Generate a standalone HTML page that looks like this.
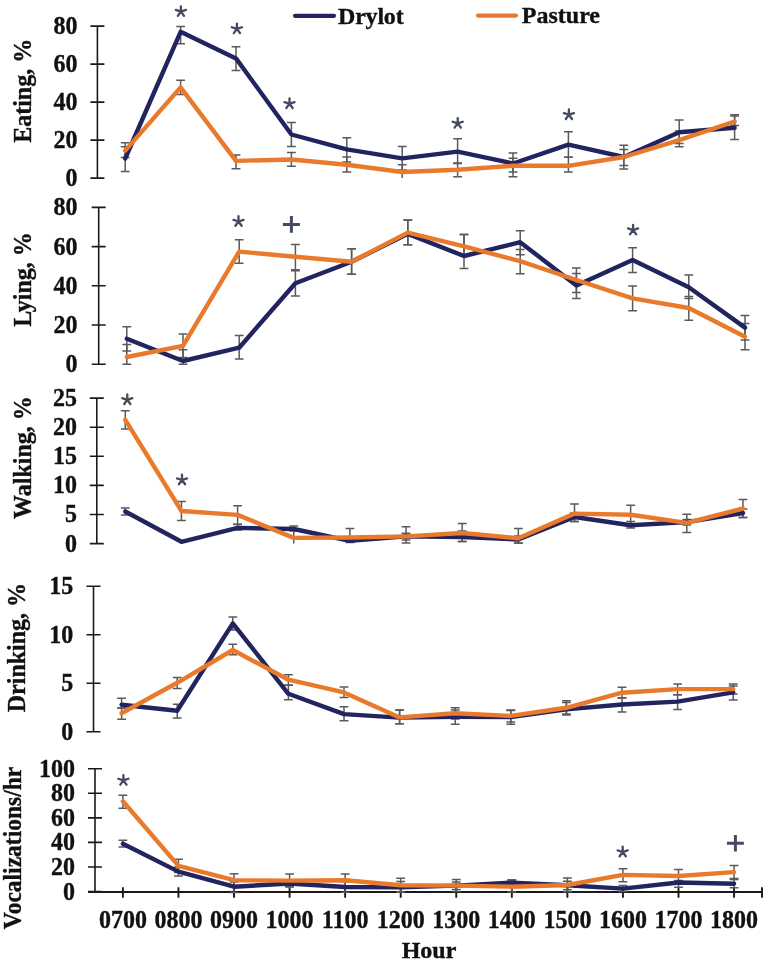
<!DOCTYPE html>
<html><head><meta charset="utf-8"><style>
html,body{margin:0;padding:0;background:#fff;}
body{width:768px;height:963px;overflow:hidden;}
svg{display:block;will-change:transform;}
text{font-family:"Liberation Serif",serif;font-weight:bold;font-size:24px;fill:#111111;stroke:#111;stroke-width:0.35px;}
</style></head><body>
<svg width="768" height="963" viewBox="0 0 768 963">
<rect width="768" height="963" fill="#fff"/>
<path d="M97.4 26.1V178.1" stroke="#1a1a1a" stroke-width="1.6" fill="none"/>
<path d="M90.4 26.1h14M90.4 64.1h14M90.4 102.1h14M90.4 140.1h14M90.4 178.1h14" stroke="#1a1a1a" stroke-width="1.6" fill="none"/>
<text transform="translate(77.5 34) scale(1 1.08)" text-anchor="end">80</text>
<text transform="translate(77.5 72) scale(1 1.08)" text-anchor="end">60</text>
<text transform="translate(77.5 110) scale(1 1.08)" text-anchor="end">40</text>
<text transform="translate(77.5 148) scale(1 1.08)" text-anchor="end">20</text>
<text transform="translate(77.5 186) scale(1 1.08)" text-anchor="end">0</text>
<text transform="translate(30.5 90.8) rotate(-90) scale(1 1.04)" text-anchor="middle">Eating, %</text>
<g stroke="#5a5a5a" stroke-width="1.5" fill="none">
<path d="M125.2 146.7V171.4M120.8 146.7h8.8M120.8 171.4h8.8"/>
<path d="M125.2 142.8V157.4M120.8 142.8h8.8M120.8 157.4h8.8"/>
<path d="M180.6 26.4V43.7M176.2 26.4h8.8M176.2 43.7h8.8"/>
<path d="M180.6 80.2V94.4M176.2 80.2h8.8M176.2 94.4h8.8"/>
<path d="M236 46.7V70.5M231.6 46.7h8.8M231.6 70.5h8.8"/>
<path d="M236 155V168.8M231.6 155h8.8M231.6 168.8h8.8"/>
<path d="M291.4 122.5V146.5M287 122.5h8.8M287 146.5h8.8"/>
<path d="M291.4 152.5V166.3M287 152.5h8.8M287 166.3h8.8"/>
<path d="M346.8 137.7V161.9M342.4 137.7h8.8M342.4 161.9h8.8"/>
<path d="M346.8 157V172M342.4 157h8.8M342.4 172h8.8"/>
<path d="M402.2 146.5V170M397.8 146.5h8.8M397.8 170h8.8"/>
<path d="M402.2 164.7V178M397.8 164.7h8.8"/>
<path d="M457.6 138.7V163M453.2 138.7h8.8M453.2 163h8.8"/>
<path d="M457.6 163.4V176.7M453.2 163.4h8.8M453.2 176.7h8.8"/>
<path d="M513 153V172M508.6 153h8.8M508.6 172h8.8"/>
<path d="M513 158.2V176.7M508.6 158.2h8.8M508.6 176.7h8.8"/>
<path d="M568.4 131.7V157.2M564 131.7h8.8M564 157.2h8.8"/>
<path d="M568.4 157.2V172M564 157.2h8.8M564 172h8.8"/>
<path d="M623.8 145.2V168.9M619.4 145.2h8.8M619.4 168.9h8.8"/>
<path d="M623.8 149.4V165.5M619.4 149.4h8.8M619.4 165.5h8.8"/>
<path d="M679.2 120V143.4M674.8 120h8.8M674.8 143.4h8.8"/>
<path d="M679.2 131V146.8M674.8 131h8.8M674.8 146.8h8.8"/>
<path d="M734.6 114.7V139.5M730.2 114.7h8.8M730.2 139.5h8.8"/>
<path d="M734.6 116V125.4M730.2 116h8.8M730.2 125.4h8.8"/>
</g>
<polyline points="125.2,158.5 180.6,31.8 236,58.4 291.4,134.5 346.8,149.4 402.2,158.4 457.6,151.6 513,163.5 568.4,144.6 623.8,157 679.2,132.2 734.6,127.8" fill="none" stroke="#21245f" stroke-width="4.4" stroke-linejoin="round" stroke-linecap="round"/>
<polyline points="125.2,150.6 180.6,87.4 236,160.9 291.4,159.5 346.8,164.7 402.2,172 457.6,169.8 513,165.8 568.4,165.8 623.8,157 679.2,140.2 734.6,121.5" fill="none" stroke="#e97a2c" stroke-width="4.4" stroke-linejoin="round" stroke-linecap="round"/>
<path d="M180.9 11.6L180.9 6.3M180.9 11.6L185.94 9.96M180.9 11.6L184.02 15.89M180.9 11.6L177.78 15.89M180.9 11.6L175.86 9.96" stroke="#444b60" stroke-width="2.3" stroke-linecap="round" fill="none"/>
<path d="M236.9 28.9L236.9 23.6M236.9 28.9L241.94 27.26M236.9 28.9L240.02 33.19M236.9 28.9L233.78 33.19M236.9 28.9L231.86 27.26" stroke="#444b60" stroke-width="2.3" stroke-linecap="round" fill="none"/>
<path d="M289.5 103.7L289.5 98.4M289.5 103.7L294.54 102.06M289.5 103.7L292.62 107.99M289.5 103.7L286.38 107.99M289.5 103.7L284.46 102.06" stroke="#444b60" stroke-width="2.3" stroke-linecap="round" fill="none"/>
<path d="M457.7 123.4L457.7 118.1M457.7 123.4L462.74 121.76M457.7 123.4L460.82 127.69M457.7 123.4L454.58 127.69M457.7 123.4L452.66 121.76" stroke="#444b60" stroke-width="2.3" stroke-linecap="round" fill="none"/>
<path d="M568.9 114.7L568.9 109.4M568.9 114.7L573.94 113.06M568.9 114.7L572.02 118.99M568.9 114.7L565.78 118.99M568.9 114.7L563.86 113.06" stroke="#444b60" stroke-width="2.3" stroke-linecap="round" fill="none"/>
<path d="M98.7 207.4V364.3" stroke="#1a1a1a" stroke-width="1.6" fill="none"/>
<path d="M91.7 207.4h14M91.7 246.6h14M91.7 285.8h14M91.7 325h14M91.7 364.3h14" stroke="#1a1a1a" stroke-width="1.6" fill="none"/>
<text transform="translate(77.5 215.3) scale(1 1.08)" text-anchor="end">80</text>
<text transform="translate(77.5 254.5) scale(1 1.08)" text-anchor="end">60</text>
<text transform="translate(77.5 293.7) scale(1 1.08)" text-anchor="end">40</text>
<text transform="translate(77.5 332.9) scale(1 1.08)" text-anchor="end">20</text>
<text transform="translate(77.5 372.2) scale(1 1.08)" text-anchor="end">0</text>
<text transform="translate(30.6 279.5) rotate(-90) scale(1 1.04)" text-anchor="middle">Lying, %</text>
<g stroke="#5a5a5a" stroke-width="1.5" fill="none">
<path d="M126.8 326.8V351M122.4 326.8h8.8M122.4 351h8.8"/>
<path d="M126.8 344.5V364.3M122.4 344.5h8.8M122.4 364.3h8.8"/>
<path d="M183 349.7V364.3M178.6 349.7h8.8M178.6 364.3h8.8"/>
<path d="M183 334.1V357.6M178.6 334.1h8.8M178.6 357.6h8.8"/>
<path d="M239.2 335.4V358.9M234.8 335.4h8.8M234.8 358.9h8.8"/>
<path d="M239.2 239.8V263.3M234.8 239.8h8.8M234.8 263.3h8.8"/>
<path d="M295.4 270.7V296M291 270.7h8.8M291 296h8.8"/>
<path d="M295.4 244.6V269.7M291 244.6h8.8M291 269.7h8.8"/>
<path d="M351.6 248.7V274.2M347.2 248.7h8.8M347.2 274.2h8.8"/>
<path d="M351.6 248.7V274.2M347.2 248.7h8.8M347.2 274.2h8.8"/>
<path d="M407.8 220V244.8M403.4 220h8.8M403.4 244.8h8.8"/>
<path d="M407.8 220V244.8M403.4 220h8.8M403.4 244.8h8.8"/>
<path d="M464 234.4V268.5M459.6 234.4h8.8M459.6 268.5h8.8"/>
<path d="M464 234.4V256M459.6 234.4h8.8M459.6 256h8.8"/>
<path d="M520.2 230.7V254.7M515.8 230.7h8.8M515.8 254.7h8.8"/>
<path d="M520.2 249.5V273.7M515.8 249.5h8.8M515.8 273.7h8.8"/>
<path d="M576.4 268V298.4M572 268h8.8M572 298.4h8.8"/>
<path d="M576.4 273.4V292.4M572 273.4h8.8M572 292.4h8.8"/>
<path d="M632.6 247.7V272.4M628.2 247.7h8.8M628.2 272.4h8.8"/>
<path d="M632.6 285.9V310.7M628.2 285.9h8.8M628.2 310.7h8.8"/>
<path d="M688.8 275V298.4M684.4 275h8.8M684.4 298.4h8.8"/>
<path d="M688.8 296.4V320.3M684.4 296.4h8.8M684.4 320.3h8.8"/>
<path d="M745 315.4V340M740.6 315.4h8.8M740.6 340h8.8"/>
<path d="M745 323.5V349.7M740.6 323.5h8.8M740.6 349.7h8.8"/>
</g>
<polyline points="126.8,338.8 183,361 239.2,347.7 295.4,283.2 351.6,261.7 407.8,233.9 464,256 520.2,242.2 576.4,285.5 632.6,259.9 688.8,287.2 745,327.6" fill="none" stroke="#21245f" stroke-width="4.4" stroke-linejoin="round" stroke-linecap="round"/>
<polyline points="126.8,357 183,345.8 239.2,251.6 295.4,256.7 351.6,261.7 407.8,232.6 464,246.4 520.2,261.2 576.4,280 632.6,298.3 688.8,308 745,336.7" fill="none" stroke="#e97a2c" stroke-width="4.4" stroke-linejoin="round" stroke-linecap="round"/>
<path d="M238.5 221.5L238.5 216.2M238.5 221.5L243.54 219.86M238.5 221.5L241.62 225.79M238.5 221.5L235.38 225.79M238.5 221.5L233.46 219.86" stroke="#444b60" stroke-width="2.3" stroke-linecap="round" fill="none"/>
<path d="M633.1 230.1L633.1 224.8M633.1 230.1L638.14 228.46M633.1 230.1L636.22 234.39M633.1 230.1L629.98 234.39M633.1 230.1L628.06 228.46" stroke="#444b60" stroke-width="2.3" stroke-linecap="round" fill="none"/>
<path d="M282.9 224.4h17M291.4 216.1v16.6" stroke="#444b60" stroke-width="3.0" fill="none"/>
<path d="M96.8 398.1V543.6" stroke="#1a1a1a" stroke-width="1.6" fill="none"/>
<path d="M89.8 398.1h14M89.8 427.2h14M89.8 456.3h14M89.8 485.4h14M89.8 514.5h14M89.8 543.6h14" stroke="#1a1a1a" stroke-width="1.6" fill="none"/>
<text transform="translate(77 406) scale(1 1.08)" text-anchor="end">25</text>
<text transform="translate(77 435.1) scale(1 1.08)" text-anchor="end">20</text>
<text transform="translate(77 464.2) scale(1 1.08)" text-anchor="end">15</text>
<text transform="translate(77 493.3) scale(1 1.08)" text-anchor="end">10</text>
<text transform="translate(77 522.4) scale(1 1.08)" text-anchor="end">5</text>
<text transform="translate(77 551.5) scale(1 1.08)" text-anchor="end">0</text>
<text transform="translate(30.5 457.6) rotate(-90) scale(1 1.04)" text-anchor="middle">Walking, %</text>
<g stroke="#5a5a5a" stroke-width="1.5" fill="none">
<path d="M125.3 508.1V515M120.9 508.1h8.8M120.9 515h8.8"/>
<path d="M125.3 410.7V429M120.9 410.7h8.8M120.9 429h8.8"/>
<path d="M181.45 501.6V520.6M177.05 501.6h8.8M177.05 520.6h8.8"/>
<path d="M237.6 524.5V530M233.2 524.5h8.8M233.2 530h8.8"/>
<path d="M237.6 505.8V524.3M233.2 505.8h8.8M233.2 524.3h8.8"/>
<path d="M293.75 525.9V531M289.35 525.9h8.8M289.35 531h8.8"/>
<path d="M293.75 528V543.6"/>
<path d="M349.9 537V542.6M345.5 537h8.8M345.5 542.6h8.8"/>
<path d="M349.9 528.5V541M345.5 528.5h8.8"/>
<path d="M406.05 533.3V540M401.65 533.3h8.8M401.65 540h8.8"/>
<path d="M406.05 526.8V542.9M401.65 526.8h8.8M401.65 542.9h8.8"/>
<path d="M462.2 531V541.6M457.8 531h8.8M457.8 541.6h8.8"/>
<path d="M462.2 523.4V541.6M457.8 523.4h8.8M457.8 541.6h8.8"/>
<path d="M518.35 536V542.9M513.95 536h8.8M513.95 542.9h8.8"/>
<path d="M518.35 528.6V542.9M513.95 528.6h8.8M513.95 542.9h8.8"/>
<path d="M574.5 513V521.6M570.1 513h8.8M570.1 521.6h8.8"/>
<path d="M574.5 503.9V521.6M570.1 503.9h8.8M570.1 521.6h8.8"/>
<path d="M630.65 521.5V528M626.25 521.5h8.8M626.25 528h8.8"/>
<path d="M630.65 505.2V524M626.25 505.2h8.8M626.25 524h8.8"/>
<path d="M686.8 519.5V525M682.4 519.5h8.8M682.4 525h8.8"/>
<path d="M686.8 514.3V532.5M682.4 514.3h8.8M682.4 532.5h8.8"/>
<path d="M742.95 509V517.4M738.55 509h8.8M738.55 517.4h8.8"/>
<path d="M742.95 499.4V517.4M738.55 499.4h8.8M738.55 517.4h8.8"/>
</g>
<polyline points="125.3,511.5 181.45,541.8 237.6,527.9 293.75,529 349.9,540.8 406.05,536.4 462.2,537 518.35,539.5 574.5,517 630.65,525.2 686.8,522.1 742.95,513" fill="none" stroke="#21245f" stroke-width="4.4" stroke-linejoin="round" stroke-linecap="round"/>
<polyline points="125.3,419.8 181.45,511 237.6,514.9 293.75,537.9 349.9,537.5 406.05,536.4 462.2,533 518.35,538.2 574.5,513.6 630.65,514.8 686.8,522.9 742.95,508.5" fill="none" stroke="#e97a2c" stroke-width="4.4" stroke-linejoin="round" stroke-linecap="round"/>
<path d="M127.3 399.8L127.3 394.5M127.3 399.8L132.34 398.16M127.3 399.8L130.42 404.09M127.3 399.8L124.18 404.09M127.3 399.8L122.26 398.16" stroke="#444b60" stroke-width="2.3" stroke-linecap="round" fill="none"/>
<path d="M182 480L182 474.7M182 480L187.04 478.36M182 480L185.12 484.29M182 480L178.88 484.29M182 480L176.96 478.36" stroke="#444b60" stroke-width="2.3" stroke-linecap="round" fill="none"/>
<path d="M93.5 586.3V731.7" stroke="#1a1a1a" stroke-width="1.6" fill="none"/>
<path d="M86.5 586.3h14M86.5 634.8h14M86.5 683.2h14M86.5 731.7h14" stroke="#1a1a1a" stroke-width="1.6" fill="none"/>
<text transform="translate(73.3 594.2) scale(1 1.08)" text-anchor="end">15</text>
<text transform="translate(73.3 642.7) scale(1 1.08)" text-anchor="end">10</text>
<text transform="translate(73.3 691.1) scale(1 1.08)" text-anchor="end">5</text>
<text transform="translate(73.3 739.6) scale(1 1.08)" text-anchor="end">0</text>
<text transform="translate(25.2 647.6) rotate(-90) scale(1 1.04)" text-anchor="middle">Drinking, %</text>
<g stroke="#5a5a5a" stroke-width="1.5" fill="none">
<path d="M121.6 698.2V708M117.2 698.2h8.8M117.2 708h8.8"/>
<path d="M121.6 708V719.3M117.2 708h8.8M117.2 719.3h8.8"/>
<path d="M177.2 704.2V718M172.8 704.2h8.8M172.8 718h8.8"/>
<path d="M177.2 677.6V688.5M172.8 677.6h8.8M172.8 688.5h8.8"/>
<path d="M232.8 616.9V630M228.4 616.9h8.8M228.4 630h8.8"/>
<path d="M232.8 644.3V654.7M228.4 644.3h8.8M228.4 654.7h8.8"/>
<path d="M288.4 685.2V699.7M284 685.2h8.8M284 699.7h8.8"/>
<path d="M288.4 674.7V685.2M284 674.7h8.8M284 685.2h8.8"/>
<path d="M344 706.8V720.8M339.6 706.8h8.8M339.6 720.8h8.8"/>
<path d="M344 687V697.4M339.6 687h8.8M339.6 697.4h8.8"/>
<path d="M399.6 709.9V723.7M395.2 709.9h8.8M395.2 723.7h8.8"/>
<path d="M399.6 709.9V723.7M395.2 709.9h8.8M395.2 723.7h8.8"/>
<path d="M455.2 710V724.2M450.8 710h8.8M450.8 724.2h8.8"/>
<path d="M455.2 707.8V719M450.8 707.8h8.8M450.8 719h8.8"/>
<path d="M510.8 710.5V724.2M506.4 710.5h8.8M506.4 724.2h8.8"/>
<path d="M510.8 709.9V722M506.4 709.9h8.8M506.4 722h8.8"/>
<path d="M566.4 702.5V715.1M562 702.5h8.8M562 715.1h8.8"/>
<path d="M566.4 700.8V714M562 700.8h8.8M562 714h8.8"/>
<path d="M622 697.7V712M617.6 697.7h8.8M617.6 712h8.8"/>
<path d="M622 687.2V698M617.6 687.2h8.8M617.6 698h8.8"/>
<path d="M677.6 694.8V709.4M673.2 694.8h8.8M673.2 709.4h8.8"/>
<path d="M677.6 683.9V694.8M673.2 683.9h8.8M673.2 694.8h8.8"/>
<path d="M733.2 686V700M728.8 686h8.8M728.8 700h8.8"/>
<path d="M733.2 683.9V694M728.8 683.9h8.8M728.8 694h8.8"/>
</g>
<polyline points="121.6,704.7 177.2,710.8 232.8,623.4 288.4,693.8 344,714.1 399.6,717.6 455.2,716.9 510.8,717 566.4,709.4 622,704.5 677.6,701.6 733.2,692.4" fill="none" stroke="#21245f" stroke-width="4.4" stroke-linejoin="round" stroke-linecap="round"/>
<polyline points="121.6,713.3 177.2,682.8 232.8,650 288.4,679.7 344,692.4 399.6,717.4 455.2,713.3 510.8,715.9 566.4,707.8 622,692.7 677.6,689.1 733.2,689.1" fill="none" stroke="#e97a2c" stroke-width="4.4" stroke-linejoin="round" stroke-linecap="round"/>
<path d="M95 768.8V891.6" stroke="#1a1a1a" stroke-width="1.6" fill="none"/>
<path d="M88 768.8h14M88 793.3h14M88 817.9h14M88 842.4h14M88 867h14M88 891.6h14" stroke="#1a1a1a" stroke-width="1.6" fill="none"/>
<text transform="translate(75 776.7) scale(1 1.08)" text-anchor="end">100</text>
<text transform="translate(75 801.2) scale(1 1.08)" text-anchor="end">80</text>
<text transform="translate(75 825.8) scale(1 1.08)" text-anchor="end">60</text>
<text transform="translate(75 850.3) scale(1 1.08)" text-anchor="end">40</text>
<text transform="translate(75 874.9) scale(1 1.08)" text-anchor="end">20</text>
<text transform="translate(75 899.5) scale(1 1.08)" text-anchor="end">0</text>
<text transform="translate(21 848) rotate(-90) scale(1 1.04)" text-anchor="middle" style="font-size:23.5px">Vocalizations/hr</text>
<path d="M88 892H762" stroke="#1a1a1a" stroke-width="1.9" fill="none"/>
<path d="M122.9 887.2V897.8M178.46 887.2V897.8M234.02 887.2V897.8M289.58 887.2V897.8M345.14 887.2V897.8M400.7 887.2V897.8M456.26 887.2V897.8M511.82 887.2V897.8M567.38 887.2V897.8M622.94 887.2V897.8M678.5 887.2V897.8M734.06 887.2V897.8M762 887.2V897.8" stroke="#1a1a1a" stroke-width="1.9" fill="none"/>
<g stroke="#5a5a5a" stroke-width="1.5" fill="none">
<path d="M122.9 840.3V846.9M118.5 840.3h8.8M118.5 846.9h8.8"/>
<path d="M122.9 795.3V808.3M118.5 795.3h8.8M118.5 808.3h8.8"/>
<path d="M178.46 866.9V876M174.06 866.9h8.8M174.06 876h8.8"/>
<path d="M178.46 859.3V872.4M174.06 859.3h8.8M174.06 872.4h8.8"/>
<path d="M234.02 881.9V892.5M229.62 881.9h8.8M229.62 892.5h8.8"/>
<path d="M234.02 873.7V886.7M229.62 873.7h8.8M229.62 886.7h8.8"/>
<path d="M289.58 880.8V886.4M285.18 880.8h8.8M285.18 886.4h8.8"/>
<path d="M289.58 874.1V887.1M285.18 874.1h8.8M285.18 887.1h8.8"/>
<path d="M345.14 881.6V892.2M340.74 881.6h8.8M340.74 892.2h8.8"/>
<path d="M345.14 873.9V886.6M340.74 873.9h8.8M340.74 886.6h8.8"/>
<path d="M400.7 881.5V892.1M396.3 881.5h8.8M396.3 892.1h8.8"/>
<path d="M400.7 878.3V892.1M396.3 878.3h8.8M396.3 892.1h8.8"/>
<path d="M456.26 882.1V889.4M451.86 882.1h8.8M451.86 889.4h8.8"/>
<path d="M456.26 879.5V891.4M451.86 879.5h8.8M451.86 891.4h8.8"/>
<path d="M511.82 879.9V885.3M507.42 879.9h8.8M507.42 885.3h8.8"/>
<path d="M511.82 879.9V891.9M507.42 879.9h8.8M507.42 891.9h8.8"/>
<path d="M567.38 881.2V889.7M562.98 881.2h8.8M562.98 889.7h8.8"/>
<path d="M567.38 878V891.8M562.98 878h8.8M562.98 891.8h8.8"/>
<path d="M622.94 885.6V891.6M618.54 885.6h8.8M618.54 891.6h8.8"/>
<path d="M622.94 868.7V881.7M618.54 868.7h8.8M618.54 881.7h8.8"/>
<path d="M678.5 880.4V887.2M674.1 880.4h8.8M674.1 887.2h8.8"/>
<path d="M678.5 869.5V882.5M674.1 869.5h8.8M674.1 882.5h8.8"/>
<path d="M734.06 879.4V887.7M729.66 879.4h8.8M729.66 887.7h8.8"/>
<path d="M734.06 865.6V878.6M729.66 865.6h8.8M729.66 878.6h8.8"/>
</g>
<polyline points="122.9,843.7 178.46,871.6 234.02,886.7 289.58,883.5 345.14,887 400.7,887.4 456.26,885.6 511.82,882.7 567.38,885.2 622.94,888.6 678.5,882.5 734.06,883.8" fill="none" stroke="#21245f" stroke-width="4.4" stroke-linejoin="round" stroke-linecap="round"/>
<polyline points="122.9,801.3 178.46,865.9 234.02,880.2 289.58,880.6 345.14,880.2 400.7,885.3 456.26,885.6 511.82,886.7 567.38,885 622.94,874.9 678.5,876 734.06,872.1" fill="none" stroke="#e97a2c" stroke-width="4.4" stroke-linejoin="round" stroke-linecap="round"/>
<path d="M123.4 780.4L123.4 775.1M123.4 780.4L128.44 778.76M123.4 780.4L126.52 784.69M123.4 780.4L120.28 784.69M123.4 780.4L118.36 778.76" stroke="#444b60" stroke-width="2.3" stroke-linecap="round" fill="none"/>
<path d="M622.7 852L622.7 846.7M622.7 852L627.74 850.36M622.7 852L625.82 856.29M622.7 852L619.58 856.29M622.7 852L617.66 850.36" stroke="#444b60" stroke-width="2.3" stroke-linecap="round" fill="none"/>
<path d="M726.9 843.3h17M735.4 835v16.6" stroke="#444b60" stroke-width="3.0" fill="none"/>
<text transform="translate(122.9 928.1) scale(1 1.08)" text-anchor="middle">0700</text>
<text transform="translate(178.46 928.1) scale(1 1.08)" text-anchor="middle">0800</text>
<text transform="translate(234.02 928.1) scale(1 1.08)" text-anchor="middle">0900</text>
<text transform="translate(289.58 928.1) scale(1 1.08)" text-anchor="middle">1000</text>
<text transform="translate(345.14 928.1) scale(1 1.08)" text-anchor="middle">1100</text>
<text transform="translate(400.7 928.1) scale(1 1.08)" text-anchor="middle">1200</text>
<text transform="translate(456.26 928.1) scale(1 1.08)" text-anchor="middle">1300</text>
<text transform="translate(511.82 928.1) scale(1 1.08)" text-anchor="middle">1400</text>
<text transform="translate(567.38 928.1) scale(1 1.08)" text-anchor="middle">1500</text>
<text transform="translate(622.94 928.1) scale(1 1.08)" text-anchor="middle">1600</text>
<text transform="translate(678.5 928.1) scale(1 1.08)" text-anchor="middle">1700</text>
<text transform="translate(734.06 928.1) scale(1 1.08)" text-anchor="middle">1800</text>
<text x="429" y="957.8" text-anchor="middle">Hour</text>
<path d="M295 15.8H334" stroke="#21245f" stroke-width="4.2" stroke-linecap="round" fill="none"/>
<text x="338" y="23.6" style="letter-spacing:-0.2px">Drylot</text>
<path d="M478 15.6H516" stroke="#e97a2c" stroke-width="4.2" stroke-linecap="round" fill="none"/>
<text x="521.8" y="23.3">Pasture</text>
</svg>
</body></html>
